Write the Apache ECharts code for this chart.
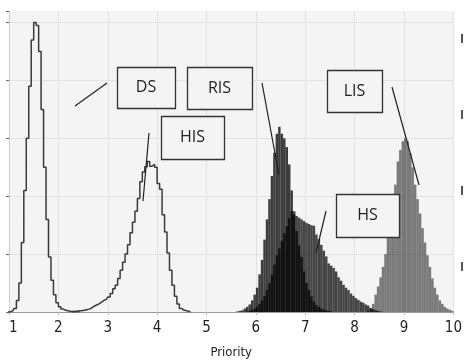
<!DOCTYPE html>
<html>
<head>
<meta charset="utf-8">
<script src="https://cdn.jsdelivr.net/npm/echarts@6/dist/echarts.min.js"></script>
<style>
html, body { margin: 0; padding: 0; background: #fff; }
#chart { width: 465px; height: 364px; }
</style>
</head>
<body>
<div id="chart"></div>
<script>
// histogram bins, width 0.05
const binWidth = 0.05;
const xTicks = [1, 2, 3, 4, 5, 6, 7, 8, 9, 10];

const dsStart = 1.00; //DS
const dsValues = [0, 0.02, 0.06, 0.2, 0.5, 1.2, 2.1, 3.0, 3.9, 4.7, 5.0, 4.95, 4.5, 3.5, 2.5, 1.6, 0.95, 0.55, 0.3, 0.16, 0.09, 0.05, 0.03, 0.02, 0.01, 0.01, 0.01, 0.01];

const hisStart = 2.30; //HIS
const hisValues = [0.01, 0.01, 0.02, 0.02, 0.03, 0.04, 0.05, 0.07, 0.1, 0.12, 0.14, 0.17, 0.2, 0.22, 0.26, 0.32, 0.4, 0.46, 0.58, 0.72, 0.86, 1.0, 1.16, 1.37, 1.55, 1.74, 1.96, 2.25, 2.42, 2.51, 2.6, 2.52, 2.55, 2.5, 2.22, 2.12, 1.68, 1.38, 1.02, 0.72, 0.46, 0.27, 0.14, 0.06, 0.03, 0.02, 0.01];

const risStart = 5.60; //RIS
const risValues = [0.01, 0.02, 0.03, 0.06, 0.09, 0.13, 0.2, 0.3, 0.42, 0.65, 0.9, 1.25, 1.6, 1.95, 2.35, 2.75, 3.08, 3.2, 3.08, 3.0, 2.85, 2.55, 2.1, 1.74, 1.4, 1.15, 0.95, 0.7, 0.5, 0.38, 0.27, 0.18, 0.12, 0.09, 0.06, 0.04, 0.03, 0.02, 0.01];

const hsStart = 5.80; //HS
const hsValues = [0.01, 0.02, 0.04, 0.06, 0.09, 0.14, 0.2, 0.28, 0.38, 0.5, 0.64, 0.82, 0.98, 1.1, 1.23, 1.36, 1.48, 1.62, 1.74, 1.68, 1.66, 1.63, 1.6, 1.57, 1.54, 1.52, 1.5, 1.49, 1.34, 1.26, 1.16, 1.06, 0.96, 0.84, 0.8, 0.76, 0.7, 0.6, 0.54, 0.47, 0.42, 0.38, 0.32, 0.28, 0.24, 0.21, 0.18, 0.16, 0.13, 0.11, 0.07, 0.05, 0.03, 0.02, 0.01];

const lisStart = 8.25; //LIS
const lisValues = [0.02, 0.06, 0.14, 0.3, 0.44, 0.6, 0.78, 1.0, 1.3, 1.6, 1.9, 2.2, 2.6, 2.8, 2.95, 3.0, 2.95, 2.75, 2.5, 2.2, 1.95, 1.7, 1.45, 1.2, 0.98, 0.78, 0.58, 0.42, 0.3, 0.2, 0.14, 0.09, 0.06, 0.04, 0.02];

//标注框
const labelBoxes = [
    { text: "DS", x: 117, y: 67, w: 58, h: 41 },
    { text: "RIS", x: 187, y: 67, w: 65, h: 42 },
    { text: "HIS", x: 161, y: 116, w: 63, h: 43 },
    { text: "LIS", x: 327, y: 70, w: 55, h: 42 },
    { text: "HS", x: 336, y: 194, w: 63, h: 43 }
];
const pointerLines = [
    [75, 106, 107, 83],
    [262, 83, 279, 175],
    [149, 133, 143, 201],
    [392, 87, 419, 185],
    [326, 211, 316, 253]
];

function toPoints(start, values) {
    return values.map(function (v, i) {
        return [+(start + i * binWidth + binWidth / 2).toFixed(4), v];
    });
}

function outline(start, values) {
    let pts = toPoints(start, values);
    pts.unshift([+(start - binWidth / 2).toFixed(4), 0]);
    pts.push([+(start + values.length * binWidth + binWidth / 2).toFixed(4), 0]);
    return pts;
}

let graphics = [];
labelBoxes.forEach(function (b) {
    graphics.push({
        type: "rect",
        shape: { x: b.x + 0.5, y: b.y + 0.5, width: b.w, height: b.h },
        style: { fill: "#f4f4f4", stroke: "#333", lineWidth: 1.3 },
        z: 100
    });
    graphics.push({
        type: "text",
        x: b.x + b.w / 2,
        y: b.y + b.h / 2,
        style: {
            text: b.text, fill: "#222", fontSize: 16,
            fontFamily: "Open Sans, Noto Sans, sans-serif",
            align: "center", verticalAlign: "middle"
        },
        z: 101
    });
});
pointerLines.forEach(function (l) {
    graphics.push({
        type: "line",
        shape: { x1: l[0], y1: l[1], x2: l[2], y2: l[3] },
        style: { stroke: "#222", lineWidth: 1.2 },
        z: 100
    });
});
// 右侧残留标记
[34, 110, 186, 262].forEach(function (y) {
    graphics.push({
        type: "rect",
        shape: { x: 461, y: y, width: 2, height: 9 },
        style: { fill: "#555" },
        z: 100
    });
});

const condensed = "DejaVu Sans Condensed, Liberation Sans Narrow, DejaVu Sans, sans-serif";

let chart = echarts.init(document.getElementById("chart"));
let option = {
    animation: false,
    backgroundColor: "#fff",
    grid: {
        left: 9, right: 5, top: 11, bottom: 49,
        show: true, backgroundColor: "#f4f4f4", borderWidth: 0
    },
    xAxis: {
        type: "value",
        min: xTicks[0],
        max: xTicks[xTicks.length - 1],
        interval: 1,
        name: "Priority",
        nameLocation: "center",
        nameGap: 34,
        nameTextStyle: { fontFamily: condensed, fontSize: 13, color: "#222" },
        axisLine: { lineStyle: { color: "#999", width: 1 } },
        axisTick: { show: true, length: 3, lineStyle: { color: "#bbb" } },
        axisLabel: {
            fontFamily: condensed, fontSize: 15, color: "#222", margin: 9,
            alignMinLabel: "left"
        },
        splitLine: { show: true, lineStyle: { color: "#e2e2e2", width: 1 } }
    },
    yAxis: {
        type: "value",
        min: 0,
        max: 5.2,
        interval: 1,
        axisLine: { show: true, lineStyle: { color: "#ccc" } },
        axisTick: { show: true, length: 3, inside: false, lineStyle: { color: "#666" } },
        axisLabel: { show: false },
        splitLine: { show: true, showMaxLine: false, lineStyle: { color: "#e2e2e2", width: 1 } }
    },
    graphic: graphics,
    series: [
        {
            name: "LIS", type: "bar", data: toPoints(lisStart, lisValues),
            barWidth: "100%", barGap: "-100%",
            itemStyle: { color: "rgba(0,0,0,0.5)" }
        },
        {
            name: "RIS", type: "bar", data: toPoints(risStart, risValues),
            barWidth: "100%", barGap: "-100%",
            itemStyle: { color: "rgba(0,0,0,0.75)" }
        },
        {
            name: "HS", type: "bar", data: toPoints(hsStart, hsValues),
            barWidth: "100%", barGap: "-100%",
            itemStyle: { color: "rgba(0,0,0,0.72)" }
        },
        {
            name: "DS", type: "line", step: "middle", data: outline(dsStart, dsValues),
            symbol: "none", lineStyle: { color: "#3a3a3a", width: 1.5 }
        },
        {
            name: "HIS", type: "line", step: "middle", data: outline(hisStart, hisValues),
            symbol: "none", lineStyle: { color: "#3a3a3a", width: 1.5 }
        }
    ]
};
chart.setOption(option);
</script>
</body>
</html>
